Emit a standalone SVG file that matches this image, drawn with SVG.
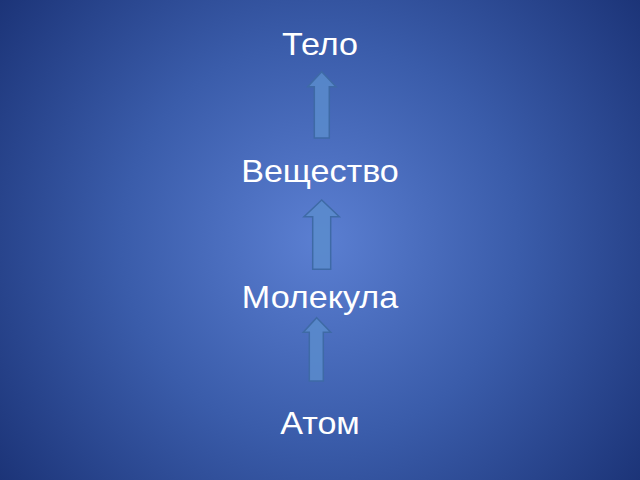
<svg xmlns="http://www.w3.org/2000/svg" width="640" height="480" viewBox="0 0 640 480">
<defs>
<radialGradient id="bg" cx="320" cy="240" r="400" gradientUnits="userSpaceOnUse">
<stop offset="0" stop-color="#5b7fd2"/>
<stop offset="0.5" stop-color="#3a5caa"/>
<stop offset="1" stop-color="#1c3478"/>
</radialGradient>
<style>
.t{font-family:"Liberation Sans",Arial,sans-serif;font-size:31px;fill:#ffffff;text-anchor:middle}
.a{fill:#5a8ccc;fill-opacity:0.85;stroke:#3e6aa6;stroke-width:1.5;stroke-linejoin:miter}
</style>
</defs>
<rect width="640" height="480" fill="url(#bg)"/>
<g id="n1" transform="translate(320,55) scale(1.1,1)"><text class="t" x="0" y="0">Тело</text></g>
<g id="n2" transform="translate(320,182) scale(1.1,1)"><text class="t" x="0" y="0">Вещество</text></g>
<g id="n3" transform="translate(320,308) scale(1.1,1)"><text class="t" x="0" y="0">Молекула</text></g>
<g id="n4" transform="translate(320,434) scale(1.1,1)"><text class="t" x="0" y="0">Атом</text></g>
<g id="connectors">
<path class="a" d="M321.7,71.7 L336,86.7 L329.3,86.7 L329.3,138 L314.3,138 L314.3,86.7 L307.7,86.7 Z"/>
<path class="a" d="M321.7,200 L339.3,216.7 L330.7,216.7 L330.7,269.3 L312.7,269.3 L312.7,216.7 L304,216.7 Z"/>
<path class="a" d="M316.7,317.7 L330.7,332.3 L323.3,332.3 L323.3,381 L309.3,381 L309.3,332.3 L303.3,332.3 Z"/>
</g>
</svg>
